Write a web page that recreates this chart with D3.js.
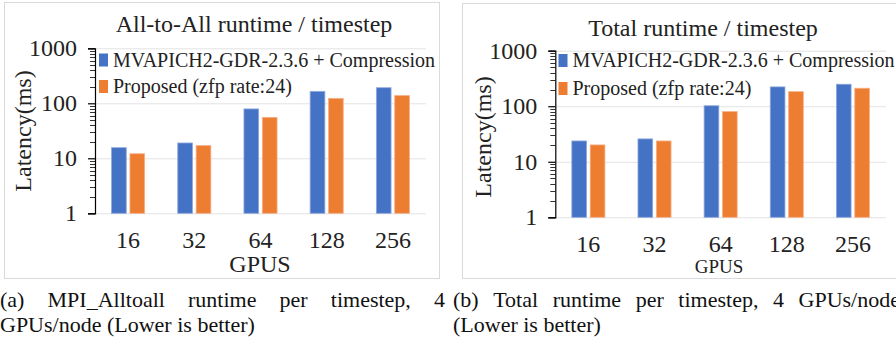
<!DOCTYPE html>
<html>
<head>
<meta charset="utf-8">
<script src="https://cdn.jsdelivr.net/npm/d3@7"></script>
<style>
  html, body { margin: 0; padding: 0; background: #fff; overflow: hidden; }
  svg { display: block; }
  svg text { font-family: 'Liberation Serif', 'DejaVu Serif', serif; }
</style>
</head>
<body>
<div id="chart"></div>
<script>
// GPU counts on the x axis
const gpus = ['16', '32', '64', '128', '256'];
const seriesNames = ['MVAPICH2-GDR-2.3.6 + Compression', 'Proposed (zfp rate:24)'];
const seriesColors = ['#4472C4', '#ED7D31'];

// (a) All-to-All runtime per timestep, ms
const alltoallBaseline = [15.6, 19, 79, 165, 192];
const alltoallProposed = [12.1, 17, 55.5, 123, 138];

// (b) Total runtime per timestep, ms
const totalBaseline = [23.7, 25.8, 102, 223, 249];
const totalProposed = [20.1, 23.7, 80, 183, 211];

const yTicks = [1, 10, 100, 1000];

const SERIF = "'Liberation Serif', 'DejaVu Serif', serif";
const W = 896, H = 344;
const svg = d3.select('#chart').append('svg')
    .attr('width', W)
    .attr('height', H)
    .attr('font-family', SERIF);

function drawPanel(cfg) {
    const g = svg.append('g');

    // cadre du panneau
    g.append('rect')
        .attr('x', cfg.box[0]).attr('y', cfg.box[1])
        .attr('width', cfg.box[2]).attr('height', cfg.box[3])
        .attr('fill', 'none')
        .attr('stroke', '#d9d9d9')
        .attr('stroke-width', 1);

    const x = d3.scaleBand()
        .domain(gpus)
        .range([cfg.left, cfg.right])
        .paddingInner(0.5)
        .paddingOuter(0.25);

    const xs = d3.scaleBand()
        .domain(d3.range(seriesNames.length))
        .range([0, x.bandwidth()])
        .paddingInner(0.2);

    const y = d3.scaleLog()
        .domain([1, 1000])
        .range([cfg.bottom, cfg.top]);

    // lignes de grille
    g.selectAll('.grid')
        .data(yTicks)
        .join('line')
        .attr('x1', cfg.left).attr('x2', cfg.right)
        .attr('y1', d => y(d) + 0.5).attr('y2', d => y(d) + 0.5)
        .attr('stroke', '#e3e3e3')
        .attr('stroke-width', 1);

    // barres
    cfg.series.forEach((vals, si) => {
        g.selectAll(null)
            .data(vals)
            .join('rect')
            .attr('x', (d, i) => x(gpus[i]) + xs(si))
            .attr('y', d => y(d))
            .attr('width', xs.bandwidth())
            .attr('height', d => y(1) - y(d))
            .attr('fill', seriesColors[si])
            .attr('stroke', si === 0 ? '#8fa9dc' : '#f5b088')
            .attr('stroke-width', 0.8);
    });

    // axe Y logarithmique avec graduations mineures
    const minor = [];
    for (let p = 1; p < 1000; p *= 10) {
        for (let k = 2; k <= 9; k++) minor.push(p * k);
    }
    g.selectAll(null)
        .data(minor)
        .join('line')
        .attr('x1', cfg.left - 5).attr('x2', cfg.left)
        .attr('y1', d => Math.round(y(d)) + 0.5).attr('y2', d => Math.round(y(d)) + 0.5)
        .attr('stroke', '#333')
        .attr('stroke-width', 1);

    const yAxis = g.append('g')
        .attr('transform', `translate(${cfg.left},0)`)
        .call(d3.axisLeft(y).tickValues(yTicks).tickFormat(d3.format('d')).tickSize(7).tickPadding(11));
    yAxis.attr('font-family', SERIF);
    yAxis.select('.domain').attr('stroke', '#000').attr('stroke-width', 1.2);
    yAxis.selectAll('.tick line').attr('stroke', '#000').attr('stroke-width', 1.2);
    yAxis.selectAll('.tick text')
        .attr('font-size', 24)
        .attr('font-family', SERIF)
        .attr('fill', '#222');

    // étiquettes X
    g.selectAll(null)
        .data(gpus)
        .join('text')
        .attr('x', d => x(d) + x.bandwidth() / 2)
        .attr('y', cfg.xLabelY)
        .attr('text-anchor', 'middle')
        .attr('font-size', 24)
        .attr('fill', '#222')
        .text(d => d);

    g.append('text')
        .attr('x', cfg.xTitle[0]).attr('y', cfg.xTitle[1])
        .attr('text-anchor', 'middle')
        .attr('font-size', cfg.xTitleSize)
        .attr('fill', '#222')
        .text('GPUS');

    g.append('text')
        .attr('transform', `translate(${cfg.yTitle[0]},${cfg.yTitle[1]}) rotate(-90)`)
        .attr('text-anchor', 'middle')
        .attr('font-size', 24)
        .attr('fill', '#222')
        .text('Latency(ms)');

    g.append('text')
        .attr('x', cfg.title[0]).attr('y', cfg.title[1])
        .attr('text-anchor', 'middle')
        .attr('font-size', 24)
        .attr('fill', '#222')
        .text(cfg.titleText);

    // légende
    seriesNames.forEach((name, i) => {
        const by = cfg.legend[1] + i * cfg.legendStep;
        g.append('rect')
            .attr('x', cfg.legend[0]).attr('y', by - 13)
            .attr('width', 9).attr('height', 13)
            .attr('fill', seriesColors[i]);
        g.append('text')
            .attr('x', cfg.legend[0] + 14).attr('y', by)
            .attr('font-size', 20)
            .attr('fill', '#222')
            .text(name);
    });
}

drawPanel({
    box: [4.5, 2.5, 435, 276],
    left: 95, right: 426, top: 48.3, bottom: 213.3,
    series: [alltoallBaseline, alltoallProposed],
    xLabelY: 248, xTitle: [260, 272], xTitleSize: 24,
    yTitle: [31, 131],
    title: [254, 32], titleText: 'All-to-All runtime / timestep',
    legend: [99, 66.5], legendStep: 26.5
});

drawPanel({
    box: [462.5, 3.5, 460, 275],
    left: 555.3, right: 886, top: 50.7, bottom: 217.3,
    series: [totalBaseline, totalProposed],
    xLabelY: 252, xTitle: [719, 273], xTitleSize: 19,
    yTitle: [491, 137],
    title: [703, 36], titleText: 'Total runtime / timestep',
    legend: [558.5, 67], legendStep: 28
});

// légendes des sous-figures (justifiées comme dans l'article)
function caption(x0, width, y, words, justify) {
    const t = svg.append('g');
    const nodes = words.map(w => t.append('text')
        .attr('y', y)
        .attr('font-size', 22)
        .attr('font-family', SERIF)
        .attr('fill', '#111')
        .text(w));
    const widths = nodes.map(n => n.node().getComputedTextLength());
    const total = d3.sum(widths);
    const gap = justify ? (width - total) / (words.length - 1) : 5.5;
    let cx = x0;
    nodes.forEach((n, i) => {
        n.attr('x', cx);
        cx += widths[i] + gap;
    });
}

caption(0, 445, 307, ['(a)', 'MPI_Alltoall', 'runtime', 'per', 'timestep,', '4'], true);
caption(0, 445, 332, ['GPUs/node', '(Lower', 'is', 'better)'], false);
caption(453, 447, 307, ['(b)', 'Total', 'runtime', 'per', 'timestep,', '4', 'GPUs/node'], true);
caption(453, 447, 332, ['(Lower', 'is', 'better)'], false);
</script>
</body>
</html>
